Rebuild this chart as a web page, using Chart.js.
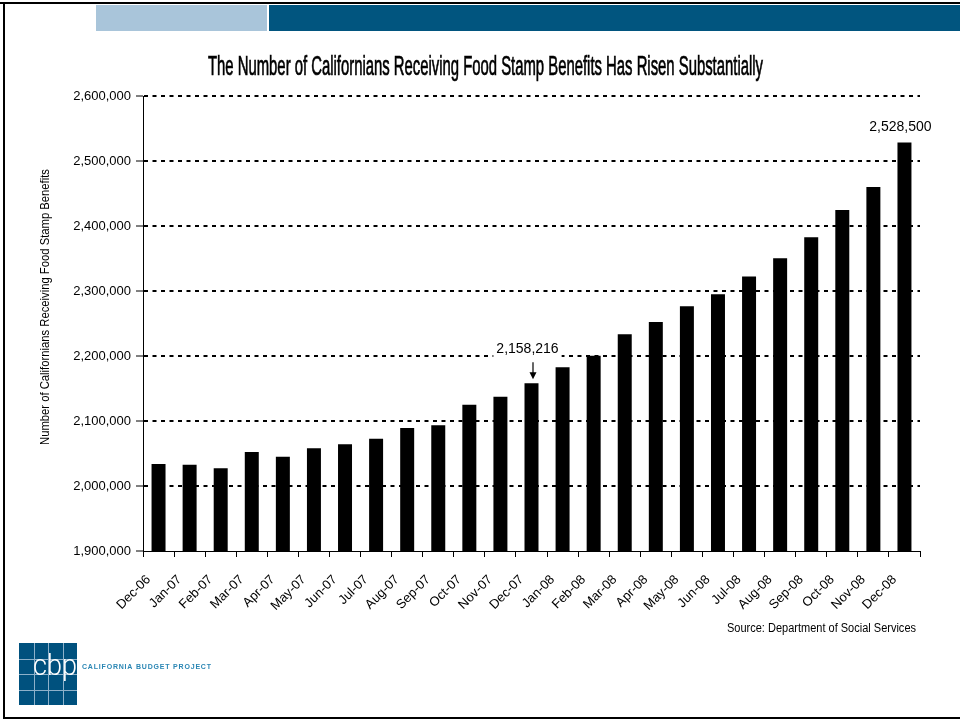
<!DOCTYPE html>
<html>
<head>
<meta charset="utf-8">
<title>Californians Receiving Food Stamp Benefits</title>
<script src="https://cdn.jsdelivr.net/npm/chart.js@4.4.1/dist/chart.umd.min.js"></script>
<style>
    html, body { margin: 0; padding: 0; background: #fff; }
    #wrap { width: 960px; height: 721px; }
</style>
</head>
<body>
<div id="wrap"><canvas id="foodStampChart" width="960" height="721"></canvas></div>
<script>
// Monthly food stamp recipients in California, Dec 2006 - Dec 2008
const months = [
    "Dec-06", "Jan-07", "Feb-07", "Mar-07", "Apr-07", "May-07", "Jun-07",
    "Jul-07", "Aug-07", "Sep-07", "Oct-07", "Nov-07", "Dec-07", "Jan-08",
    "Feb-08", "Mar-08", "Apr-08", "May-08", "Jun-08", "Jul-08", "Aug-08",
    "Sep-08", "Oct-08", "Nov-08", "Dec-08"
];
const recipients = [
    2033800, 2032800, 2027200, 2052300, 2045100, 2058000, 2064100,
    2072800, 2089200, 2093300, 2125100, 2137400, 2158216, 2182600,
    2200500, 2233400, 2252300, 2276400, 2295000, 2322300, 2350500,
    2382600, 2424600, 2460000, 2528500
];

// y axis range and tick step
const yMin = 1900000;
const yMax = 2600000;
const yStep = 100000;

// bars that get a value label (arrow = small pointer under the label)
const callouts = [
    { month: "Dec-07", arrow: true },
    { month: "Dec-08", arrow: false }
];

const chartTitle = "The Number of Californians Receiving Food Stamp Benefits Has Risen Substantially";
const yAxisTitle = "Number of Californians Receiving Food Stamp Benefits";
const sourceNote = "Source: Department of Social Services";
const orgName = "CALIFORNIA BUDGET PROJECT";

const baseFont = "'Liberation Sans', Arial, Helvetica, sans-serif";
const narrowFont = "'Liberation Sans Narrow', 'Liberation Sans', Arial, sans-serif";

// draw text squeezed/stretched to a given width (optional stroke to thicken it)
function drawFitted(ctx, text, x, y, width, align, thicken) {
    const w = ctx.measureText(text).width;
    ctx.save();
    ctx.translate(x, y);
    ctx.scale(width / w, 1);
    ctx.textAlign = align;
    ctx.fillText(text, 0, 0);
    if (thicken) {
        ctx.strokeStyle = ctx.fillStyle;
        ctx.lineWidth = thicken;
        ctx.strokeText(text, 0, 0);
    }
    ctx.restore();
}

const pageDecor = {
    id: "pageDecor",
    beforeDraw(chart) {
        const ctx = chart.ctx;
        ctx.save();
        ctx.fillStyle = "#fff";
        ctx.fillRect(0, 0, chart.width, chart.height);

        // header bands
        ctx.fillStyle = "#a9c5da";
        ctx.fillRect(96, 5, 171, 26);
        ctx.fillStyle = "#01557f";
        ctx.fillRect(269, 5, chart.width - 269, 26);

        // slide frame
        ctx.fillStyle = "#000";
        ctx.fillRect(0, 2, chart.width, 2);
        ctx.fillRect(3, 2, 2, 717);
        ctx.fillRect(3, 717, chart.width - 3, 2);
        ctx.restore();
    },
    afterDraw(chart) {
        const ctx = chart.ctx;
        const bars = chart.getDatasetMeta(0).data;
        ctx.save();
        ctx.fillStyle = "#000";
        ctx.textBaseline = "alphabetic";

        // title: tall condensed lettering
        ctx.font = "27px " + baseFont;
        drawFitted(ctx, chartTitle, 208, 75, 555, "left", 0.7);

        // y axis title
        ctx.save();
        ctx.translate(49, 307);
        ctx.rotate(-Math.PI / 2);
        ctx.font = "13.5px " + narrowFont;
        drawFitted(ctx, yAxisTitle, -138, 0, 276, "left");
        ctx.restore();

        // value callouts
        ctx.font = "14px " + baseFont;
        callouts.forEach(c => {
            const i = months.indexOf(c.month);
            const bar = bars[i];
            const label = recipients[i].toLocaleString("en-US");
            const tw = ctx.measureText(label).width;
            const cx = bar.x - 4;
            const base = c.arrow ? bar.y - 30 : bar.y - 11;
            ctx.fillStyle = "#fff";
            ctx.fillRect(cx - tw / 2 - 3, base - 13, tw + 6, 17);
            ctx.fillStyle = "#000";
            ctx.textAlign = "center";
            ctx.fillText(label, cx, base);
            if (c.arrow) {
                const ax = bar.x + 1.5;
                ctx.strokeStyle = "#000";
                ctx.lineWidth = 1.2;
                ctx.beginPath();
                ctx.moveTo(ax, bar.y - 21);
                ctx.lineTo(ax, bar.y - 8);
                ctx.stroke();
                ctx.beginPath();
                ctx.moveTo(ax - 3.5, bar.y - 11);
                ctx.lineTo(ax, bar.y - 4);
                ctx.lineTo(ax + 3.5, bar.y - 11);
                ctx.closePath();
                ctx.fill();
            }
        });

        // source note
        ctx.font = "12.5px " + narrowFont;
        drawFitted(ctx, sourceNote, 916, 632, 189, "right");

        // logo block
        ctx.fillStyle = "#00517e";
        ctx.fillRect(19, 643, 58, 62);
        ctx.strokeStyle = "#8db1ca";
        ctx.lineWidth = 1;
        for (let k = 1; k <= 3; k++) {
            const vx = Math.round(19 + k * 14.5) + 0.5;
            const hy = Math.round(643 + k * 15.5) + 0.5;
            ctx.beginPath();
            ctx.moveTo(vx, 643);
            ctx.lineTo(vx, 705);
            ctx.moveTo(19, hy);
            ctx.lineTo(77, hy);
            ctx.stroke();
        }
        ctx.fillStyle = "#fff";
        ctx.font = "300 30px Roboto, " + baseFont;
        drawFitted(ctx, "cbp", 33, 675, 44, "left");

        // organisation name, letter spaced
        ctx.fillStyle = "#2a86b4";
        ctx.font = "bold 7px " + baseFont;
        ctx.textBaseline = "middle";
        ctx.textAlign = "left";
        const chars = orgName.split("");
        const plain = chars.reduce((s, ch) => s + ctx.measureText(ch).width, 0);
        const gap = (129 - plain) / (chars.length - 1);
        let px = 82;
        chars.forEach(ch => {
            ctx.fillText(ch, px, 667);
            px += ctx.measureText(ch).width + gap;
        });
        ctx.restore();
    }
};

new Chart(document.getElementById("foodStampChart"), {
    type: "bar",
    data: {
        labels: months,
        datasets: [{
            label: "Food stamp recipients",
            data: recipients,
            backgroundColor: "#000",
            borderWidth: 0,
            barPercentage: 0.45,
            categoryPercentage: 1.0
        }]
    },
    options: {
        responsive: false,
        animation: false,
        devicePixelRatio: 1,
        layout: { padding: { top: 96, left: 0, right: 40, bottom: 0 } },
        plugins: {
            legend: { display: false },
            title: { display: false },
            tooltip: { enabled: false }
        },
        scales: {
            x: {
                grid: {
                    drawOnChartArea: false,
                    offset: true,
                    color: "#000",
                    tickLength: 6,
                    lineWidth: 1
                },
                border: { color: "#000", width: 1 },
                ticks: {
                    color: "#000",
                    font: { family: baseFont, size: 13 },
                    autoSkip: false,
                    maxRotation: 45,
                    minRotation: 45,
                    padding: 15,
                    labelOffset: -10
                },
                afterFit: scale => { scale.height = 170; }
            },
            y: {
                min: yMin,
                max: yMax,
                ticks: {
                    stepSize: yStep,
                    color: "#000",
                    font: { family: baseFont, size: 13 },
                    padding: 5,
                    callback: v => v.toLocaleString("en-US")
                },
                grid: {
                    color: c => (c.tick && c.tick.value === yMin) ? "rgba(0,0,0,0)" : "#000",
                    lineWidth: 2,
                    tickLength: 7,
                    tickWidth: 1,
                    tickColor: "#000",
                    tickBorderDash: []
                },
                border: { color: "#000", width: 1, dash: [4, 4.5] },
                afterFit: scale => { scale.width = 143; }
            }
        }
    },
    plugins: [pageDecor]
});
</script>
</body>
</html>
